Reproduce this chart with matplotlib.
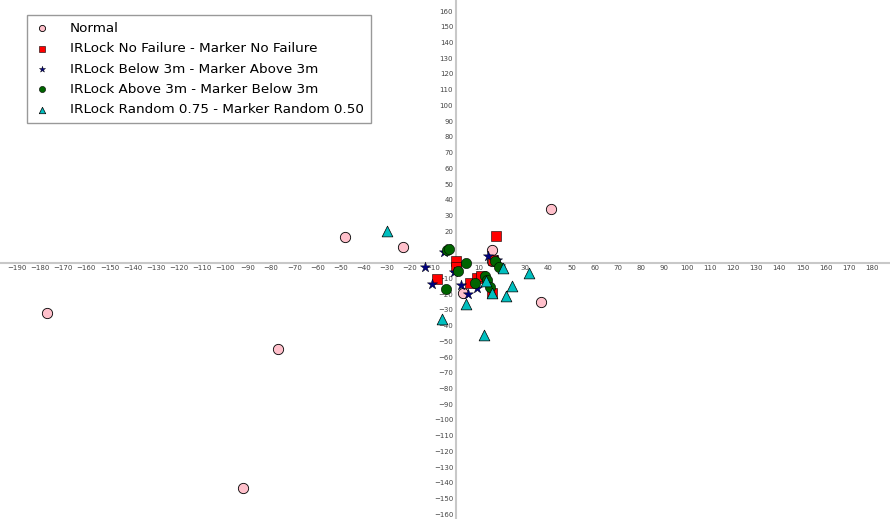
import matplotlib.pyplot as plt
from matplotlib.ticker import MultipleLocator, FuncFormatter

# 着陆偏差散点 (单位: cm)
normal_x = [-177, -77, -92, -48, -23, 41, 37, 15.5, 3.2, 15.5]
normal_y = [-32, -55, -143, 16.5, 10, 34, -25, 8.3, -19.3, 0.8]

nofail_x = [17.3, 0, 0, -8.4, 6, 9, 11, 15.5, 16]
nofail_y = [16.7, 1, -3, -10.4, -13, -9.7, -8.7, -19, 2]

below_x = [-13.4, -10.5, -5, -0.7, 2, 5.3, 9, 14, 17.6, 19]
below_y = [-2.7, -13.3, 6.5, -6, -14, -20, -16, 4.4, 2, -2]

above_x = [-4, -3, 4.3, 1, -4.3, 8.2, 12.5, 13.5, 14.7, 17, 18.8]
above_y = [7.8, 8.8, 0, -5.5, -16.7, -13, -8.7, -11.2, -15.4, 0.8, -2.7]

random_x = [-30, -6.2, 4.3, 12.1, 13, 15.5, 20.2, 21.6, 24.4, 31.7]
random_y = [19.9, -35.8, -26, -45.7, -11.9, -19.3, -3.4, -21, -15, -6.6]

fig = plt.figure(figsize=(8.9, 5.19), dpi=100)
ax = fig.add_axes([0, 0, 1, 1])

ax.scatter(normal_x, normal_y, s=55, marker='o', color='pink', edgecolors='k',
           linewidths=0.6, label='Normal', zorder=3)
ax.scatter(nofail_x, nofail_y, s=60, marker='s', color='red', edgecolors='k',
           linewidths=0.4, label='IRLock No Failure - Marker No Failure', zorder=3)
ax.scatter(below_x, below_y, s=60, marker='*', color='navy', edgecolors='k',
           linewidths=0.3, label='IRLock Below 3m - Marker Above 3m', zorder=3)
ax.scatter(above_x, above_y, s=55, marker='o', color='darkgreen', edgecolors='k',
           linewidths=0.4, label='IRLock Above 3m - Marker Below 3m', zorder=3)
ax.scatter(random_x, random_y, s=60, marker='^', color='c', edgecolors='k',
           linewidths=0.5, label='IRLock Random 0.75 - Marker Random 0.50', zorder=4)

ax.set_xlim(-197.4, 187.9)
ax.set_ylim(-163, 167)

# 坐标轴放在原点
for side in ['left', 'bottom']:
    ax.spines[side].set_position(('data', 0))
    ax.spines[side].set_color('#c8c8c8')
    ax.spines[side].set_linewidth(1.5)
for side in ['right', 'top']:
    ax.spines[side].set_visible(False)

ax.xaxis.set_major_locator(MultipleLocator(10))
ax.yaxis.set_major_locator(MultipleLocator(10))
fmt = FuncFormatter(lambda v, p: '' if abs(v) < 1e-9 else f'{int(round(v))}'.replace('-', '\u2212'))
ax.xaxis.set_major_formatter(fmt)
ax.yaxis.set_major_formatter(fmt)
ax.tick_params(axis='both', length=0, labelsize=5, labelcolor='#444444', pad=2)

ax.legend(loc='upper left', bbox_to_anchor=(0.0303, 0.971), borderaxespad=0,
          fontsize=9.7, markerscale=0.6, fancybox=False, edgecolor='#999999',
          framealpha=1, borderpad=0.5, labelspacing=0.55, handlelength=1.2,
          handletextpad=1.5)

fig.savefig('out.png', dpi=100)
